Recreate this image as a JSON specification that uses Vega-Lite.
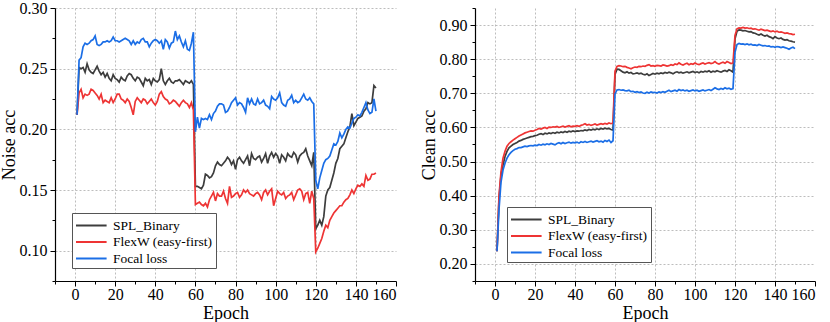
{
"$schema": "https://vega.github.io/schema/vega-lite/v6.json",
"padding": {"left": 0, "top": 0, "right": 2, "bottom": 0},
"spacing": 23,
"config": {
  "font": "Liberation Serif",
  "view": {"stroke": null},
  "axis": {"domainColor": "#000", "domainWidth": 1.2, "tickColor": "#000", "tickWidth": 1, "labelColor": "#000", "titleColor": "#000", "labelFont": "Liberation Serif", "titleFont": "Liberation Serif", "labelFontSize": 16, "titleFontSize": 18, "titleFontWeight": "normal", "gridColor": "#b5b5b5", "gridDash": [2, 2], "gridWidth": 0.9, "labelPadding": 3},
  "axisX": {"labelPadding": 0, "titlePadding": 2},
  "legend": {"orient": "none", "title": null, "strokeColor": "#555", "fillColor": "#fff", "padding": 3, "symbolType": "M-1,0H2.6", "symbolSize": 289, "symbolStrokeWidth": 2, "labelFont": "Liberation Serif", "labelFontSize": 13.5, "labelColor": "#000", "labelOffset": 19, "rowPadding": 0.5}
},
"resolve": {"legend": {"color": "independent"}},
"datasets": {
"noise": [
{"e":1,"s":0.212,"f":0.212,"l":0.212},{"e":2,"s":0.251,"f":0.230,"l":0.257},{"e":3,"s":0.250,"f":0.233,"l":0.259},{"e":4,"s":0.251,"f":0.226,"l":0.268},{"e":5,"s":0.247,"f":0.229,"l":0.271},{"e":6,"s":0.254,"f":0.228,"l":0.270},{"e":7,"s":0.249,"f":0.229,"l":0.271},{"e":8,"s":0.247,"f":0.233,"l":0.273},{"e":9,"s":0.246,"f":0.232,"l":0.274},{"e":10,"s":0.249,"f":0.230,"l":0.277},
{"e":11,"s":0.252,"f":0.228,"l":0.270},{"e":12,"s":0.248,"f":0.225,"l":0.269},{"e":13,"s":0.245,"f":0.229,"l":0.270},{"e":14,"s":0.247,"f":0.222,"l":0.272},{"e":15,"s":0.243,"f":0.224,"l":0.272},{"e":16,"s":0.246,"f":0.223,"l":0.273},{"e":17,"s":0.242,"f":0.222,"l":0.272},{"e":18,"s":0.240,"f":0.226,"l":0.273},{"e":19,"s":0.245,"f":0.222,"l":0.276},{"e":20,"s":0.242,"f":0.225,"l":0.273},
{"e":21,"s":0.241,"f":0.229,"l":0.273},{"e":22,"s":0.239,"f":0.229,"l":0.272},{"e":23,"s":0.243,"f":0.225,"l":0.273},{"e":24,"s":0.241,"f":0.224,"l":0.274},{"e":25,"s":0.240,"f":0.222,"l":0.275},{"e":26,"s":0.244,"f":0.225,"l":0.274},{"e":27,"s":0.246,"f":0.223,"l":0.273},{"e":28,"s":0.245,"f":0.218,"l":0.270},{"e":29,"s":0.242,"f":0.212,"l":0.273},{"e":30,"s":0.240,"f":0.223,"l":0.270},
{"e":31,"s":0.243,"f":0.226,"l":0.272},{"e":32,"s":0.242,"f":0.224,"l":0.271},{"e":33,"s":0.239,"f":0.222,"l":0.274},{"e":34,"s":0.236,"f":0.225,"l":0.275},{"e":35,"s":0.242,"f":0.224,"l":0.272},{"e":36,"s":0.240,"f":0.221,"l":0.272},{"e":37,"s":0.241,"f":0.223,"l":0.268},{"e":38,"s":0.237,"f":0.225,"l":0.271},{"e":39,"s":0.242,"f":0.222,"l":0.273},{"e":40,"s":0.240,"f":0.220,"l":0.274},
{"e":41,"s":0.239,"f":0.223,"l":0.273},{"e":42,"s":0.241,"f":0.229,"l":0.271},{"e":43,"s":0.250,"f":0.231,"l":0.273},{"e":44,"s":0.240,"f":0.227,"l":0.266},{"e":45,"s":0.237,"f":0.225,"l":0.274},{"e":46,"s":0.240,"f":0.224,"l":0.272},{"e":47,"s":0.242,"f":0.221,"l":0.267},{"e":48,"s":0.239,"f":0.222,"l":0.271},{"e":49,"s":0.238,"f":0.224,"l":0.272},{"e":50,"s":0.240,"f":0.223,"l":0.281},
{"e":51,"s":0.240,"f":0.221,"l":0.274},{"e":52,"s":0.241,"f":0.219,"l":0.277},{"e":53,"s":0.239,"f":0.222,"l":0.272},{"e":54,"s":0.237,"f":0.224,"l":0.268},{"e":55,"s":0.240,"f":0.222,"l":0.273},{"e":56,"s":0.239,"f":0.221,"l":0.266},{"e":57,"s":0.238,"f":0.218,"l":0.265},{"e":58,"s":0.240,"f":0.222,"l":0.271},{"e":59,"s":0.237,"f":0.216,"l":0.280},{"e":60,"s":0.153,"f":0.138,"l":0.198},
{"e":61,"s":0.153,"f":0.139,"l":0.210},{"e":62,"s":0.152,"f":0.140,"l":0.201},{"e":63,"s":0.151,"f":0.138,"l":0.209},{"e":64,"s":0.154,"f":0.137,"l":0.208},{"e":65,"s":0.163,"f":0.139,"l":0.209},{"e":66,"s":0.162,"f":0.136,"l":0.208},{"e":67,"s":0.160,"f":0.142,"l":0.212},{"e":68,"s":0.161,"f":0.145,"l":0.208},{"e":69,"s":0.164,"f":0.148,"l":0.213},{"e":70,"s":0.170,"f":0.141,"l":0.215},
{"e":71,"s":0.173,"f":0.147,"l":0.219},{"e":72,"s":0.171,"f":0.145,"l":0.221},{"e":73,"s":0.170,"f":0.145,"l":0.221},{"e":74,"s":0.172,"f":0.149,"l":0.220},{"e":75,"s":0.174,"f":0.143,"l":0.214},{"e":76,"s":0.177,"f":0.139,"l":0.215},{"e":77,"s":0.175,"f":0.153,"l":0.218},{"e":78,"s":0.171,"f":0.144,"l":0.222},{"e":79,"s":0.174,"f":0.145,"l":0.224},{"e":80,"s":0.167,"f":0.147,"l":0.226},
{"e":81,"s":0.175,"f":0.148,"l":0.220},{"e":82,"s":0.177,"f":0.144,"l":0.222},{"e":83,"s":0.174,"f":0.146,"l":0.221},{"e":84,"s":0.172,"f":0.150,"l":0.218},{"e":85,"s":0.175,"f":0.148,"l":0.214},{"e":86,"s":0.178,"f":0.150,"l":0.226},{"e":87,"s":0.170,"f":0.147,"l":0.221},{"e":88,"s":0.180,"f":0.146,"l":0.225},{"e":89,"s":0.176,"f":0.145,"l":0.221},{"e":90,"s":0.175,"f":0.147,"l":0.220},
{"e":91,"s":0.177,"f":0.148,"l":0.225},{"e":92,"s":0.178,"f":0.146,"l":0.221},{"e":93,"s":0.173,"f":0.142,"l":0.222},{"e":94,"s":0.176,"f":0.148,"l":0.224},{"e":95,"s":0.180,"f":0.150,"l":0.220},{"e":96,"s":0.172,"f":0.146,"l":0.219},{"e":97,"s":0.178,"f":0.149,"l":0.217},{"e":98,"s":0.181,"f":0.151,"l":0.227},{"e":99,"s":0.177,"f":0.137,"l":0.225},{"e":100,"s":0.180,"f":0.143,"l":0.224},
{"e":101,"s":0.178,"f":0.149,"l":0.226},{"e":102,"s":0.172,"f":0.147,"l":0.230},{"e":103,"s":0.179,"f":0.146,"l":0.222},{"e":104,"s":0.177,"f":0.148,"l":0.220},{"e":105,"s":0.174,"f":0.143,"l":0.219},{"e":106,"s":0.180,"f":0.145,"l":0.224},{"e":107,"s":0.178,"f":0.146,"l":0.225},{"e":108,"s":0.177,"f":0.148,"l":0.228},{"e":109,"s":0.181,"f":0.142,"l":0.222},{"e":110,"s":0.179,"f":0.146,"l":0.224},
{"e":111,"s":0.173,"f":0.150,"l":0.222},{"e":112,"s":0.178,"f":0.151,"l":0.223},{"e":113,"s":0.180,"f":0.149,"l":0.226},{"e":114,"s":0.181,"f":0.142,"l":0.229},{"e":115,"s":0.184,"f":0.147,"l":0.225},{"e":116,"s":0.178,"f":0.148,"l":0.224},{"e":117,"s":0.174,"f":0.139,"l":0.226},{"e":118,"s":0.170,"f":0.149,"l":0.223},{"e":119,"s":0.181,"f":0.143,"l":0.221},{"e":120,"s":0.118,"f":0.099,"l":0.158},
{"e":121,"s":0.121,"f":0.102,"l":0.151},{"e":122,"s":0.125,"f":0.106,"l":0.160},{"e":123,"s":0.121,"f":0.110,"l":0.166},{"e":124,"s":0.128,"f":0.116,"l":0.172},{"e":125,"s":0.145,"f":0.121,"l":0.175},{"e":126,"s":0.150,"f":0.119,"l":0.176},{"e":127,"s":0.152,"f":0.125,"l":0.178},{"e":128,"s":0.158,"f":0.128,"l":0.183},{"e":129,"s":0.164,"f":0.131,"l":0.188},{"e":130,"s":0.172,"f":0.133,"l":0.187},
{"e":131,"s":0.176,"f":0.135,"l":0.190},{"e":132,"s":0.184,"f":0.137,"l":0.197},{"e":133,"s":0.186,"f":0.137,"l":0.193},{"e":134,"s":0.188,"f":0.140,"l":0.196},{"e":135,"s":0.193,"f":0.142,"l":0.200},{"e":136,"s":0.198,"f":0.143,"l":0.202},{"e":137,"s":0.202,"f":0.146,"l":0.201},{"e":138,"s":0.213,"f":0.150,"l":0.205},{"e":139,"s":0.203,"f":0.147,"l":0.209},{"e":140,"s":0.206,"f":0.151,"l":0.210},
{"e":141,"s":0.209,"f":0.154,"l":0.212},{"e":142,"s":0.210,"f":0.153,"l":0.211},{"e":143,"s":0.211,"f":0.155,"l":0.214},{"e":144,"s":0.215,"f":0.153,"l":0.218},{"e":145,"s":0.217,"f":0.162,"l":0.222},{"e":146,"s":0.222,"f":0.158,"l":0.216},{"e":147,"s":0.221,"f":0.159,"l":0.213},{"e":148,"s":0.222,"f":0.163,"l":0.214},{"e":149,"s":0.236,"f":0.163,"l":0.225},{"e":150,"s":0.234,"f":0.164,"l":0.215}
],
"clean": [
{"e":1,"s":0.237,"f":0.237,"l":0.237},{"e":2,"s":0.390,"f":0.400,"l":0.360},{"e":3,"s":0.460,"f":0.470,"l":0.440},{"e":4,"s":0.490,"f":0.510,"l":0.475},{"e":5,"s":0.515,"f":0.530,"l":0.495},{"e":6,"s":0.530,"f":0.545,"l":0.510},{"e":7,"s":0.540,"f":0.553,"l":0.520},{"e":8,"s":0.545,"f":0.558,"l":0.527},{"e":9,"s":0.550,"f":0.563,"l":0.532},{"e":10,"s":0.553,"f":0.567,"l":0.536},
{"e":11,"s":0.556,"f":0.571,"l":0.538},{"e":12,"s":0.560,"f":0.575,"l":0.541},{"e":13,"s":0.562,"f":0.578,"l":0.541},{"e":14,"s":0.565,"f":0.581,"l":0.543},{"e":15,"s":0.567,"f":0.584,"l":0.545},{"e":16,"s":0.569,"f":0.586,"l":0.544},{"e":17,"s":0.571,"f":0.588,"l":0.546},{"e":18,"s":0.573,"f":0.590,"l":0.547},{"e":19,"s":0.574,"f":0.589,"l":0.546},{"e":20,"s":0.576,"f":0.592,"l":0.548},
{"e":21,"s":0.577,"f":0.594,"l":0.547},{"e":22,"s":0.580,"f":0.597,"l":0.550},{"e":23,"s":0.582,"f":0.595,"l":0.548},{"e":24,"s":0.579,"f":0.598,"l":0.551},{"e":25,"s":0.583,"f":0.600,"l":0.549},{"e":26,"s":0.581,"f":0.597,"l":0.552},{"e":27,"s":0.584,"f":0.601,"l":0.550},{"e":28,"s":0.582,"f":0.600,"l":0.553},{"e":29,"s":0.585,"f":0.602,"l":0.551},{"e":30,"s":0.583,"f":0.601,"l":0.549},
{"e":31,"s":0.586,"f":0.603,"l":0.553},{"e":32,"s":0.584,"f":0.600,"l":0.555},{"e":33,"s":0.587,"f":0.602,"l":0.552},{"e":34,"s":0.585,"f":0.604,"l":0.556},{"e":35,"s":0.588,"f":0.601,"l":0.553},{"e":36,"s":0.586,"f":0.603,"l":0.555},{"e":37,"s":0.589,"f":0.605,"l":0.557},{"e":38,"s":0.587,"f":0.602,"l":0.554},{"e":39,"s":0.590,"f":0.604,"l":0.556},{"e":40,"s":0.588,"f":0.603,"l":0.555},
{"e":41,"s":0.590,"f":0.605,"l":0.557},{"e":42,"s":0.589,"f":0.603,"l":0.554},{"e":43,"s":0.591,"f":0.606,"l":0.558},{"e":44,"s":0.590,"f":0.608,"l":0.556},{"e":45,"s":0.593,"f":0.611,"l":0.559},{"e":46,"s":0.591,"f":0.607,"l":0.556},{"e":47,"s":0.594,"f":0.609,"l":0.558},{"e":48,"s":0.592,"f":0.606,"l":0.560},{"e":49,"s":0.595,"f":0.608,"l":0.557},{"e":50,"s":0.593,"f":0.610,"l":0.559},
{"e":51,"s":0.596,"f":0.607,"l":0.561},{"e":52,"s":0.594,"f":0.609,"l":0.558},{"e":53,"s":0.597,"f":0.611,"l":0.560},{"e":54,"s":0.595,"f":0.609,"l":0.557},{"e":55,"s":0.598,"f":0.612,"l":0.562},{"e":56,"s":0.596,"f":0.610,"l":0.559},{"e":57,"s":0.597,"f":0.613,"l":0.563},{"e":58,"s":0.594,"f":0.611,"l":0.556},{"e":59,"s":0.592,"f":0.613,"l":0.561},{"e":60,"s":0.755,"f":0.765,"l":0.698},
{"e":61,"s":0.771,"f":0.779,"l":0.710},{"e":62,"s":0.770,"f":0.781,"l":0.711},{"e":63,"s":0.766,"f":0.780,"l":0.709},{"e":64,"s":0.762,"f":0.778,"l":0.710},{"e":65,"s":0.760,"f":0.779,"l":0.708},{"e":66,"s":0.763,"f":0.776,"l":0.707},{"e":67,"s":0.759,"f":0.774,"l":0.709},{"e":68,"s":0.761,"f":0.772,"l":0.705},{"e":69,"s":0.757,"f":0.775,"l":0.706},{"e":70,"s":0.758,"f":0.777,"l":0.703},
{"e":71,"s":0.760,"f":0.776,"l":0.705},{"e":72,"s":0.757,"f":0.779,"l":0.702},{"e":73,"s":0.759,"f":0.778,"l":0.704},{"e":74,"s":0.756,"f":0.780,"l":0.701},{"e":75,"s":0.754,"f":0.779,"l":0.700},{"e":76,"s":0.757,"f":0.782,"l":0.703},{"e":77,"s":0.752,"f":0.784,"l":0.701},{"e":78,"s":0.755,"f":0.780,"l":0.704},{"e":79,"s":0.758,"f":0.781,"l":0.702},{"e":80,"s":0.756,"f":0.779,"l":0.703},
{"e":81,"s":0.759,"f":0.782,"l":0.701},{"e":82,"s":0.757,"f":0.781,"l":0.704},{"e":83,"s":0.760,"f":0.780,"l":0.702},{"e":84,"s":0.758,"f":0.783,"l":0.705},{"e":85,"s":0.761,"f":0.782,"l":0.703},{"e":86,"s":0.759,"f":0.780,"l":0.706},{"e":87,"s":0.762,"f":0.781,"l":0.709},{"e":88,"s":0.760,"f":0.784,"l":0.705},{"e":89,"s":0.757,"f":0.782,"l":0.707},{"e":90,"s":0.761,"f":0.786,"l":0.709},
{"e":91,"s":0.763,"f":0.784,"l":0.706},{"e":92,"s":0.760,"f":0.789,"l":0.711},{"e":93,"s":0.762,"f":0.785,"l":0.708},{"e":94,"s":0.759,"f":0.783,"l":0.710},{"e":95,"s":0.761,"f":0.786,"l":0.707},{"e":96,"s":0.763,"f":0.788,"l":0.709},{"e":97,"s":0.760,"f":0.784,"l":0.706},{"e":98,"s":0.762,"f":0.787,"l":0.708},{"e":99,"s":0.764,"f":0.785,"l":0.710},{"e":100,"s":0.761,"f":0.789,"l":0.707},
{"e":101,"s":0.763,"f":0.786,"l":0.709},{"e":102,"s":0.760,"f":0.784,"l":0.706},{"e":103,"s":0.764,"f":0.787,"l":0.708},{"e":104,"s":0.762,"f":0.789,"l":0.710},{"e":105,"s":0.765,"f":0.786,"l":0.707},{"e":106,"s":0.763,"f":0.788,"l":0.709},{"e":107,"s":0.766,"f":0.790,"l":0.711},{"e":108,"s":0.762,"f":0.787,"l":0.708},{"e":109,"s":0.765,"f":0.789,"l":0.712},{"e":110,"s":0.763,"f":0.793,"l":0.716},
{"e":111,"s":0.766,"f":0.788,"l":0.713},{"e":112,"s":0.764,"f":0.786,"l":0.711},{"e":113,"s":0.762,"f":0.789,"l":0.714},{"e":114,"s":0.765,"f":0.791,"l":0.712},{"e":115,"s":0.767,"f":0.788,"l":0.716},{"e":116,"s":0.764,"f":0.793,"l":0.713},{"e":117,"s":0.769,"f":0.790,"l":0.715},{"e":118,"s":0.766,"f":0.787,"l":0.712},{"e":119,"s":0.762,"f":0.789,"l":0.714},{"e":120,"s":0.860,"f":0.870,"l":0.820},
{"e":121,"s":0.882,"f":0.889,"l":0.843},{"e":122,"s":0.886,"f":0.892,"l":0.846},{"e":123,"s":0.885,"f":0.891,"l":0.844},{"e":124,"s":0.883,"f":0.893,"l":0.845},{"e":125,"s":0.884,"f":0.891,"l":0.843},{"e":126,"s":0.882,"f":0.892,"l":0.845},{"e":127,"s":0.880,"f":0.890,"l":0.842},{"e":128,"s":0.881,"f":0.891,"l":0.844},{"e":129,"s":0.877,"f":0.888,"l":0.841},{"e":130,"s":0.876,"f":0.889,"l":0.842},
{"e":131,"s":0.873,"f":0.887,"l":0.840},{"e":132,"s":0.871,"f":0.885,"l":0.843},{"e":133,"s":0.874,"f":0.888,"l":0.841},{"e":134,"s":0.870,"f":0.886,"l":0.839},{"e":135,"s":0.868,"f":0.884,"l":0.840},{"e":136,"s":0.870,"f":0.885,"l":0.838},{"e":137,"s":0.866,"f":0.883,"l":0.839},{"e":138,"s":0.864,"f":0.881,"l":0.836},{"e":139,"s":0.860,"f":0.883,"l":0.837},{"e":140,"s":0.866,"f":0.880,"l":0.835},
{"e":141,"s":0.862,"f":0.882,"l":0.837},{"e":142,"s":0.860,"f":0.879,"l":0.836},{"e":143,"s":0.862,"f":0.880,"l":0.834},{"e":144,"s":0.858,"f":0.878,"l":0.836},{"e":145,"s":0.856,"f":0.876,"l":0.834},{"e":146,"s":0.857,"f":0.877,"l":0.832},{"e":147,"s":0.854,"f":0.875,"l":0.829},{"e":148,"s":0.853,"f":0.874,"l":0.833},{"e":149,"s":0.851,"f":0.872,"l":0.835},{"e":150,"s":0.850,"f":0.873,"l":0.831}
]
},
"hconcat": [
{
  "width": 341, "height": 273,
  "data": {"name": "noise"},
  "transform": [{"fold": ["s", "f", "l"], "as": ["m", "v"]}],
  "mark": {"type": "line", "strokeWidth": 1.7},
  "encoding": {
    "x": {"field": "e", "type": "quantitative",
      "scale": {"domain": [-10, 160], "nice": false, "zero": false},
      "axis": {"title": "Epoch", "values": [-10,0,10,20,30,40,50,60,70,80,90,100,110,120,130,140,150,160],
        "labelExpr": "datum.value % 20 == 0 ? datum.label : ''",
        "tickSize": {"condition": {"test": "datum.value % 20 == 0", "value": 5}, "value": 3},
        "gridOpacity": {"condition": {"test": "datum.value % 20 == 0 && datum.value < 160", "value": 1}, "value": 0}}},
    "y": {"field": "v", "type": "quantitative",
      "scale": {"domain": [0.075, 0.30], "nice": false, "zero": false},
      "axis": {"title": "Noise acc", "titlePadding": 1, "format": ".2f", "values": [0.075,0.1,0.125,0.15,0.175,0.2,0.225,0.25,0.275,0.3],
        "labelExpr": "round(datum.value*1000) % 50 == 0 ? datum.label : ''",
        "tickSize": {"condition": {"test": "round(datum.value*1000) % 50 == 0", "value": 5}, "value": 3},
        "gridOpacity": {"condition": {"test": "round(datum.value*1000) % 50 == 0", "value": 1}, "value": 0}}},
    "color": {"field": "m", "type": "nominal",
      "scale": {"domain": ["s", "f", "l"], "range": ["#3d3d3d", "#ee3434", "#1b6ee6"]},
      "legend": {"legendX": 17, "legendY": 205, "labelExpr": "datum.label == 's' ? 'SPL_Binary' : datum.label == 'f' ? 'FlexW (easy-first)' : 'Focal loss'"}}
  }
},
{
  "width": 340, "height": 273,
  "data": {"name": "clean"},
  "transform": [{"fold": ["s", "f", "l"], "as": ["m", "v"]}],
  "mark": {"type": "line", "strokeWidth": 1.7},
  "encoding": {
    "x": {"field": "e", "type": "quantitative",
      "scale": {"domain": [-10, 160], "nice": false, "zero": false},
      "axis": {"title": "Epoch", "values": [-10,0,10,20,30,40,50,60,70,80,90,100,110,120,130,140,150,160],
        "labelExpr": "datum.value % 20 == 0 ? datum.label : ''",
        "tickSize": {"condition": {"test": "datum.value % 20 == 0", "value": 5}, "value": 3},
        "gridOpacity": {"condition": {"test": "datum.value % 20 == 0 && datum.value < 160", "value": 1}, "value": 0}}},
    "y": {"field": "v", "type": "quantitative",
      "scale": {"domain": [0.15, 0.95], "nice": false, "zero": false},
      "axis": {"title": "Clean acc", "titlePadding": 1, "format": ".2f", "values": [0.15,0.2,0.25,0.3,0.35,0.4,0.45,0.5,0.55,0.6,0.65,0.7,0.75,0.8,0.85,0.9,0.95],
        "labelExpr": "round(datum.value*100) % 10 == 0 ? datum.label : ''",
        "tickSize": {"condition": {"test": "round(datum.value*100) % 10 == 0", "value": 5}, "value": 3},
        "gridOpacity": {"condition": {"test": "round(datum.value*100) % 10 == 0", "value": 1}, "value": 0}}},
    "color": {"field": "m", "type": "nominal",
      "scale": {"domain": ["s", "f", "l"], "range": ["#3d3d3d", "#ee3434", "#1b6ee6"]},
      "legend": {"legendX": 32, "legendY": 199, "labelExpr": "datum.label == 's' ? 'SPL_Binary' : datum.label == 'f' ? 'FlexW (easy-first)' : 'Focal loss'"}}
  }
}
]
}
